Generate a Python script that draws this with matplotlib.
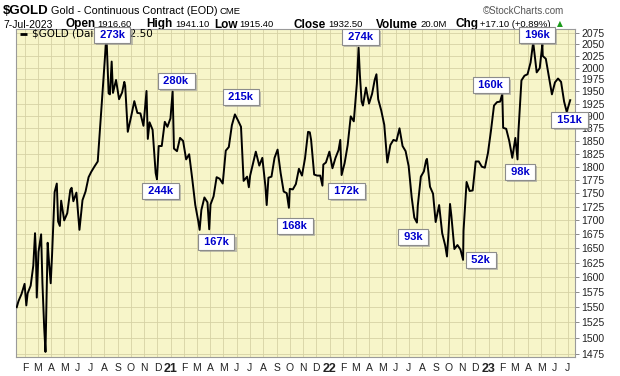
import matplotlib
matplotlib.use("Agg")
import matplotlib.pyplot as plt
import matplotlib.patheffects as pe
from matplotlib.ticker import FixedLocator, NullLocator, FuncFormatter
import pandas as pd

# $GOLD daily closes (weekly points plus swing highs / lows)
dates = [
    "2020-01-13", "2020-01-17", "2020-01-24", "2020-01-31", "2020-02-04", "2020-02-07",
    "2020-02-14", "2020-02-20", "2020-02-24", "2020-02-26", "2020-02-28", "2020-03-03",
    "2020-03-09", "2020-03-12", "2020-03-16", "2020-03-19", "2020-03-24", "2020-03-27",
    "2020-03-31", "2020-04-03", "2020-04-09", "2020-04-14", "2020-04-17", "2020-04-21",
    "2020-04-24", "2020-05-01", "2020-05-08", "2020-05-15", "2020-05-18", "2020-05-22",
    "2020-05-29", "2020-06-05", "2020-06-12", "2020-06-19", "2020-06-26", "2020-07-02",
    "2020-07-10", "2020-07-17", "2020-07-24", "2020-07-31", "2020-08-06", "2020-08-11",
    "2020-08-14", "2020-08-18", "2020-08-21", "2020-08-28", "2020-09-04", "2020-09-11",
    "2020-09-16", "2020-09-18", "2020-09-24", "2020-10-02", "2020-10-09", "2020-10-16",
    "2020-10-23", "2020-10-30", "2020-11-06", "2020-11-09", "2020-11-13", "2020-11-20",
    "2020-11-27", "2020-11-30", "2020-12-04", "2020-12-11", "2020-12-18", "2020-12-24",
    "2020-12-31", "2021-01-05", "2021-01-08", "2021-01-15", "2021-01-22", "2021-01-29",
    "2021-02-05", "2021-02-12", "2021-02-19", "2021-02-26", "2021-03-05", "2021-03-08",
    "2021-03-12", "2021-03-19", "2021-03-26", "2021-03-30", "2021-04-02", "2021-04-09",
    "2021-04-16", "2021-04-23", "2021-04-30", "2021-05-07", "2021-05-14", "2021-05-21",
    "2021-05-28", "2021-06-04", "2021-06-11", "2021-06-17", "2021-06-25", "2021-06-29",
    "2021-07-02", "2021-07-09", "2021-07-15", "2021-07-23", "2021-07-30", "2021-08-06",
    "2021-08-09", "2021-08-13", "2021-08-20", "2021-08-27", "2021-09-03", "2021-09-10",
    "2021-09-17", "2021-09-24", "2021-09-29", "2021-10-01", "2021-10-08", "2021-10-15",
    "2021-10-22", "2021-10-29", "2021-11-05", "2021-11-12", "2021-11-16", "2021-11-19",
    "2021-11-26", "2021-12-03", "2021-12-10", "2021-12-15", "2021-12-17", "2021-12-23",
    "2021-12-31", "2022-01-07", "2022-01-14", "2022-01-21", "2022-01-25", "2022-01-28",
    "2022-02-04", "2022-02-11", "2022-02-18", "2022-02-25", "2022-03-04", "2022-03-08",
    "2022-03-11", "2022-03-15", "2022-03-18", "2022-03-25", "2022-04-01", "2022-04-08",
    "2022-04-14", "2022-04-18", "2022-04-22", "2022-04-29", "2022-05-06", "2022-05-13",
    "2022-05-20", "2022-05-27", "2022-06-03", "2022-06-10", "2022-06-17", "2022-06-24",
    "2022-07-01", "2022-07-08", "2022-07-14", "2022-07-20", "2022-07-22", "2022-07-29",
    "2022-08-05", "2022-08-10", "2022-08-12", "2022-08-19", "2022-08-26", "2022-09-01",
    "2022-09-09", "2022-09-16", "2022-09-23", "2022-09-27", "2022-09-30", "2022-10-04",
    "2022-10-07", "2022-10-14", "2022-10-21", "2022-10-28", "2022-11-03", "2022-11-04",
    "2022-11-11", "2022-11-18", "2022-11-25", "2022-12-02", "2022-12-09", "2022-12-16",
    "2022-12-23", "2022-12-30", "2023-01-06", "2023-01-13", "2023-01-20", "2023-01-27",
    "2023-02-01", "2023-02-03", "2023-02-10", "2023-02-17", "2023-02-24", "2023-03-03",
    "2023-03-08", "2023-03-10", "2023-03-17", "2023-03-24", "2023-03-31", "2023-04-07",
    "2023-04-13", "2023-04-21", "2023-04-28", "2023-05-04", "2023-05-05", "2023-05-12",
    "2023-05-19", "2023-05-26", "2023-06-02", "2023-06-09", "2023-06-16", "2023-06-23",
    "2023-06-29", "2023-07-07",
]
closes = [
    1550, 1560, 1572, 1589, 1553, 1573,
    1586, 1620, 1677, 1643, 1566, 1644,
    1675, 1590, 1517, 1478, 1660, 1627,
    1590, 1637, 1752, 1768, 1698, 1690,
    1736, 1700, 1713, 1756, 1760, 1735,
    1751, 1683, 1737, 1753, 1780, 1790,
    1801, 1810, 1897, 1986, 2069, 1946,
    1944, 2013, 1947, 1974, 1934, 1948,
    1970, 1962, 1868, 1900, 1930, 1906,
    1905, 1880, 1951, 1854, 1887, 1872,
    1788, 1776, 1840, 1840, 1888, 1878,
    1895, 1950, 1835, 1830, 1856, 1850,
    1814, 1824, 1777, 1728, 1698, 1683,
    1719, 1742, 1733, 1684, 1729, 1744,
    1780, 1777, 1768, 1831, 1838, 1881,
    1903, 1891, 1878, 1773, 1781, 1761,
    1783, 1808, 1829, 1802, 1817, 1763,
    1728, 1779, 1781, 1817, 1833, 1788,
    1753, 1750, 1723, 1758, 1757, 1767,
    1796, 1783, 1816, 1868, 1867, 1852,
    1785, 1783, 1783, 1764, 1804, 1808,
    1829, 1797, 1817, 1832, 1852, 1784,
    1807, 1842, 1899, 1889, 1966, 2043,
    1985, 1929, 1921, 1958, 1925, 1945,
    1974, 1986, 1934, 1911, 1882, 1808,
    1842, 1852, 1850, 1875, 1840, 1830,
    1801, 1742, 1705, 1696, 1727, 1781,
    1791, 1812, 1815, 1762, 1749, 1697,
    1728, 1677, 1655, 1636, 1672, 1730,
    1709, 1649, 1656, 1648, 1630, 1681,
    1771, 1754, 1755, 1810, 1810, 1800,
    1798, 1826, 1870, 1921, 1928, 1929,
    1945, 1876, 1874, 1850, 1817, 1856,
    1814, 1867, 1973, 1983, 1986, 2011,
    2055, 1990, 1999, 2050, 2025, 2019,
    1981, 1944, 1969, 1977, 1970, 1929,
    1908, 1932,
]

# open-interest call-outs: text, date and price level of the box centre
oi_text = ["273k", "280k", "244k", "167k", "215k", "168k", "172k",
           "274k", "93k", "52k", "160k", "98k", "196k", "151k"]
oi_dates = ["2020-08-19", "2021-01-13", "2020-12-09", "2021-04-15", "2021-06-11",
            "2021-10-13", "2022-02-09", "2022-03-13", "2022-07-11", "2022-12-14",
            "2023-01-06", "2023-03-14", "2023-04-22", "2023-07-06"]
oi_level = [2071, 1972, 1754, 1661, 1938, 1690, 1754,
            2066, 1670, 1630, 1963, 1790, 2071, 1892]

yticks = list(range(1475, 2076, 25))
months = pd.date_range("2020-02-01", "2023-07-01", freq="MS")
month_labels = [str(d.year)[2:] if d.month == 1 else "JFMAMJJASOND"[d.month - 1] for d in months]

W, H = 620, 376
fig = plt.figure(figsize=(W / 100, H / 100), dpi=100)
ax = fig.add_axes([16 / W, 19 / H, 559 / W, 328 / H])
ax.set_facecolor("#F7F5C9")

ax.plot(pd.to_datetime(dates), closes, color="black", lw=1.4, zorder=3)

ax.set_yscale("log")
ax.set_ylim(1470, 2084)
ax.yaxis.set_major_locator(FixedLocator(yticks))
ax.yaxis.set_minor_locator(NullLocator())
ax.yaxis.set_major_formatter(FuncFormatter(lambda v, p: f"{v:.0f}"))
ax.yaxis.tick_right()
ax.tick_params(axis="y", length=3, width=0.6, color="#777777", pad=1.5,
               labelsize=7.5, labelcolor="#222222")

start = pd.Timestamp("2020-02-01")
ax.set_xlim(start - pd.Timedelta(days=20.7), start + pd.Timedelta(days=1263))
ax.set_xticks(months)
ax.set_xticklabels(month_labels)
ax.xaxis.set_minor_locator(NullLocator())
ax.tick_params(axis="x", length=0, pad=4, labelsize=7.5, labelcolor="#222222")
for lab, d in zip(ax.get_xticklabels(), months):
    lab.set_family("Liberation Sans")
    if d.month == 1:
        lab.set_fontweight("bold")
        lab.set_fontsize(9)
for lab in ax.get_yticklabels():
    lab.set_family("Liberation Sans")

ax.grid(True, color="#D6D2A4", lw=0.6)
ax.set_axisbelow(True)
for s in ax.spines.values():
    s.set_color("#9A9A9A")
    s.set_linewidth(0.8)

# legend row inside the plot
ax.plot([0.008, 0.02], [0.985, 0.985], transform=ax.transAxes, color="black",
        lw=2, solid_capstyle="butt", zorder=5, clip_on=False)
ax.text(0.029, 0.985, "$GOLD (Daily) 1932.50", transform=ax.transAxes, fontsize=7.5,
        family="DejaVu Sans", va="center", ha="left", zorder=5)

# call-out boxes
for txt, d, lv in zip(oi_text, oi_dates, oi_level):
    t = ax.text(pd.Timestamp(d), lv, f" {txt} ", ha="center", va="center",
                fontsize=8, fontweight="bold", color="#0000CC", family="Liberation Sans",
                bbox=dict(boxstyle="square,pad=0.25", fc="white", ec="#8C8C8C", lw=0.8),
                zorder=10, clip_on=False)
    t.get_bbox_patch().set_path_effects([
        pe.SimplePatchShadow(offset=(1.5, -1.5), shadow_rgbFace="#9A9A9A", alpha=0.6),
        pe.Normal()])


def ftext(x, y, s, **kw):
    kw.setdefault("family", "Liberation Sans")
    kw.setdefault("va", "center")
    fig.text(x / W, 1 - y / H, s, zorder=-1, **kw)


# header
ftext(3, 11, "$GOLD", fontsize=9.5, fontweight="bold")
ftext(51, 11.5, "Gold - Continuous Contract (EOD)", fontsize=7.8)
ftext(219, 12, "CME", fontsize=6.8)
ftext(564, 11.5, "\u00a9StockCharts.com", fontsize=7, color="#555555", ha="right")

row = 24.5
ftext(3, row, "7-Jul-2023", fontsize=7.5)
for x, s, bold in [(66, "Open", True), (97, "1916.60", False),
                   (146, "High", True), (175, "1941.10", False),
                   (214, "Low", True), (239, "1915.40", False),
                   (294, "Close", True), (328, "1932.50", False),
                   (376, "Volume", True), (420, "20.0M", False),
                   (455, "Chg", True), (480, "+17.10 (+0.89%)", False)]:
    ftext(x, row, s, fontsize=8.5 if bold else 6.8, fontweight="bold" if bold else "normal")
ftext(557, row - 0.5, "\u25b2", fontsize=5.5, color="#1A9A1A", family="DejaVu Sans")

fig.savefig("out.png", dpi=100)
